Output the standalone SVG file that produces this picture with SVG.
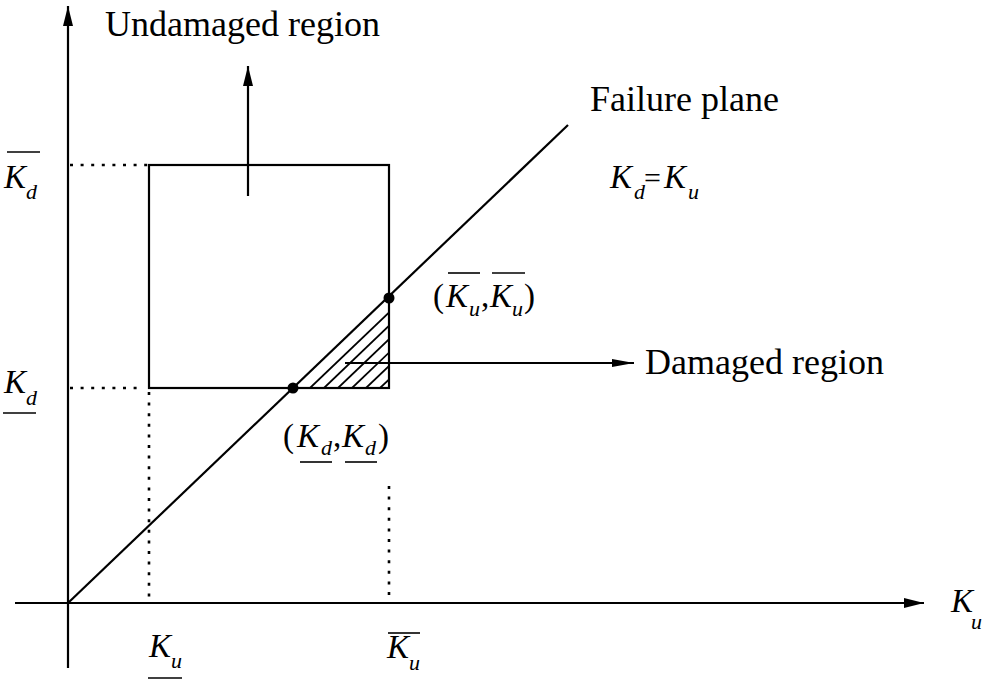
<svg xmlns="http://www.w3.org/2000/svg" width="987" height="681" viewBox="0 0 987 681">
<style>
.ln{stroke:#000;stroke-width:2.2;fill:none}
.dot{stroke:#000;stroke-width:2.6;fill:none;stroke-dasharray:3 7.6}
.t{font-family:"Liberation Serif","Times New Roman",serif;font-size:36px;fill:#000}
.k{font-family:"Liberation Serif","Times New Roman",serif;font-size:33px;font-style:italic;fill:#000}
.s{font-size:22px;font-style:italic}
.n{font-style:normal}
.bar{stroke:#000;stroke-width:1.6}
</style>
<defs>
<marker id="ah" viewBox="0 0 20 10" refX="20" refY="5" markerWidth="20" markerHeight="10" markerUnits="userSpaceOnUse" orient="auto">
<path d="M0,0 L20,5 L0,10 Z" fill="#000"/>
</marker>
<marker id="ahs" viewBox="0 0 22 8" refX="22" refY="4" markerWidth="22" markerHeight="8" markerUnits="userSpaceOnUse" orient="auto">
<path d="M0,0 L22,4 L0,8 Z" fill="#000"/>
</marker>
<clipPath id="tri"><polygon points="293,388 389,388 389,298"/></clipPath>
</defs>
<g id="connectors">
<line class="ln" x1="68" y1="668" x2="68" y2="6" marker-end="url(#ah)"/>
<line class="ln" x1="15" y1="603" x2="924" y2="603" marker-end="url(#ah)"/>
<line class="ln" x1="68" y1="603" x2="568" y2="125"/>
<line class="ln" x1="248" y1="196" x2="248" y2="66" marker-end="url(#ah)"/>
<line class="ln" x1="345" y1="363" x2="634" y2="363" marker-end="url(#ahs)"/>
<line class="dot" x1="70" y1="165" x2="148" y2="165"/>
<line class="dot" x1="70" y1="388" x2="138" y2="388"/>
<line class="dot" x1="149" y1="392" x2="149" y2="602"/>
<line class="dot" x1="389" y1="486" x2="389" y2="602"/>
</g>
<g id="rect">
<rect class="ln" x="149" y="165" width="240" height="223"/>
</g>
<g id="hatch" clip-path="url(#tri)">
<g stroke="#000" stroke-width="1.8">
<line x1="310" y1="388" x2="410" y2="292.4"/>
<line x1="324" y1="388" x2="424" y2="292.4"/>
<line x1="338" y1="388" x2="438" y2="292.4"/>
<line x1="352" y1="388" x2="452" y2="292.4"/>
<line x1="366" y1="388" x2="466" y2="292.4"/>
<line x1="380" y1="388" x2="480" y2="292.4"/>
</g>
</g>
<g id="points">
<circle cx="293" cy="388" r="5.5" fill="#000"/>
<circle cx="389" cy="298" r="5.5" fill="#000"/>
</g>
<g id="labels">
<text class="t" x="105" y="36">Undamaged region</text>
<text class="t" x="590" y="111">Failure plane</text>
<text class="t" x="645" y="374">Damaged region</text>
<text class="k"><tspan x="610" y="188">K</tspan><tspan class="s" x="634" y="199">d</tspan><tspan class="n" font-size="30" x="644" y="188">=</tspan><tspan x="664" y="188">K</tspan><tspan class="s" x="688" y="199">u</tspan></text>
<text class="k"><tspan x="951" y="612">K</tspan><tspan class="s" x="971" y="629">u</tspan></text>
<g id="kd-bar">
<line class="bar" x1="7" y1="152" x2="40" y2="152"/>
<text class="k"><tspan x="4" y="188">K</tspan><tspan class="s" x="26" y="199">d</tspan></text>
</g>
<g id="kd-under">
<text class="k"><tspan x="4" y="393">K</tspan><tspan class="s" x="26" y="405">d</tspan></text>
<line class="bar" x1="3" y1="413" x2="36" y2="413"/>
</g>
<g id="ku-under">
<text class="k"><tspan x="149" y="657">K</tspan><tspan class="s" x="171" y="668">u</tspan></text>
<line class="bar" x1="148" y1="678" x2="182" y2="678"/>
</g>
<g id="ku-bar">
<line class="bar" x1="388" y1="633" x2="420" y2="633"/>
<text class="k"><tspan x="387" y="658">K</tspan><tspan class="s" x="409" y="670">u</tspan></text>
</g>
<g id="pt-upper">
<text class="k"><tspan class="n" x="433" y="307">(</tspan><tspan x="446" y="307">K</tspan><tspan class="s" x="469" y="316">u</tspan><tspan class="n" x="481" y="307">,</tspan><tspan x="490" y="307">K</tspan><tspan class="s" x="512" y="316">u</tspan><tspan class="n" x="524" y="307">)</tspan></text>
<line class="bar" x1="448" y1="273" x2="480" y2="273"/>
<line class="bar" x1="492" y1="273" x2="525" y2="273"/>
</g>
<g id="pt-lower">
<text class="k"><tspan class="n" x="283" y="447">(</tspan><tspan x="297" y="447">K</tspan><tspan class="s" x="321" y="455">d</tspan><tspan class="n" x="333" y="447">,</tspan><tspan x="342" y="447">K</tspan><tspan class="s" x="365" y="455">d</tspan><tspan class="n" x="378" y="447">)</tspan></text>
<line class="bar" x1="300" y1="462" x2="332" y2="462"/>
<line class="bar" x1="345" y1="462" x2="377" y2="462"/>
</g>
</g>
</svg>
